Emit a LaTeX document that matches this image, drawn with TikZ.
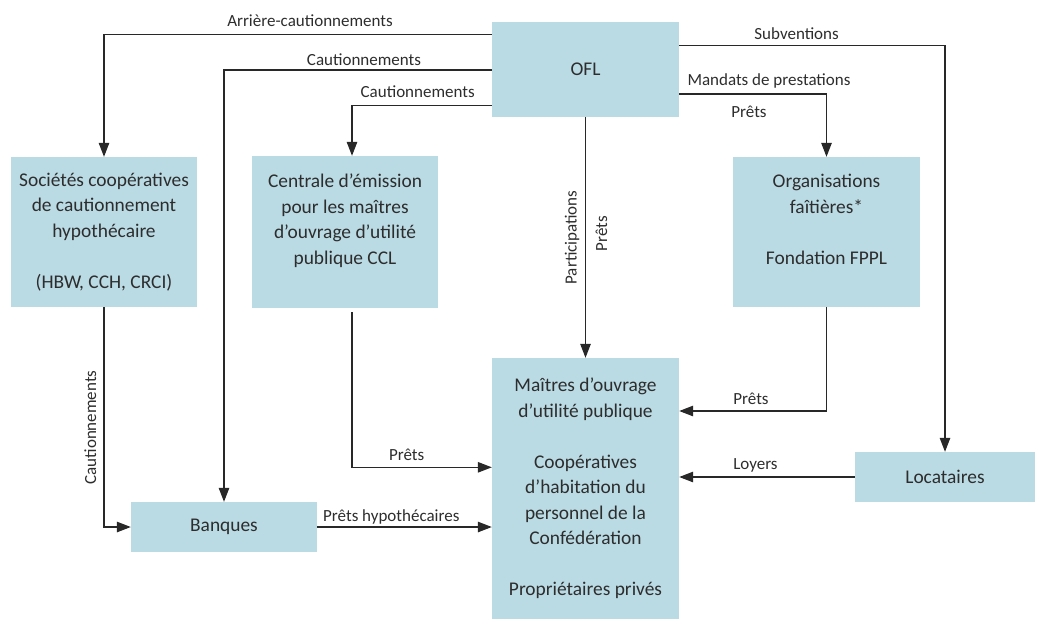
\documentclass[tikz,border=0pt]{standalone}
\usepackage{fontspec}
\setmainfont{Carlito}
\usetikzlibrary{arrows.meta}
\definecolor{boxblue}{RGB}{186,218,228}
\definecolor{ink}{RGB}{40,40,40}
\definecolor{txt}{RGB}{45,45,45}
\begin{document}
\begin{tikzpicture}[x=1pt,y=-1pt,
  box/.style={fill=boxblue, draw=none, inner sep=0pt, align=center, text=txt, font=\fontsize{19.4}{25.5}\selectfont},
  arr/.style={draw=ink, line width=1.2pt, -{Triangle[length=14pt,width=10.5pt]}},
  lbl/.style={text=txt, font=\fontsize{17}{20}\selectfont, inner sep=0pt, anchor=base},
  vlbl/.style={lbl, rotate=90}]
\useasboundingbox (0,0) rectangle (1038,619);
% boxes
\node[box, minimum width=187pt, minimum height=95pt] (ofl) at (585.5,69.3) {OFL};
\node[box, minimum width=186pt, minimum height=150pt] (soc) at (104,232) {Sociétés coopératives\\de cautionnement\\hypothécaire\\\mbox{}\\(HBW, CCH, CRCI)};
\node[box, minimum width=186pt, minimum height=152pt] (cen) at (345,232) {Centrale d’émission\\pour les maîtres\\d’ouvrage d’utilité\\publique CCL\\\mbox{}};
\node[box, minimum width=187pt, minimum height=150pt] (org) at (826.5,232) {Organisations\\faîtières*\\\mbox{}\\Fondation FPPL\\\mbox{}};
\node[box, minimum width=186pt, minimum height=50pt] (ban) at (224,527) {Banques};
\node[box, minimum width=187pt, minimum height=261pt] (mai) at (585.5,488.5) {Maîtres d’ouvrage\\d’utilité publique\\\mbox{}\\Coopératives\\d’habitation du\\personnel de la\\Confédération\\\mbox{}\\Propriétaires privés};
\node[box, minimum width=180pt, minimum height=50pt] (loc) at (945,477) {Locataires};
% connectors
\draw[arr] (ofl.west |- 0,34.3) -| (soc.north);
\draw[arr] (ofl.west |- 0,70) -| (ban.north);
\draw[arr] (ofl.west |- 0,105.3) -| ([xshift=7pt]cen.north);
\draw[arr] (ofl.east |- 0,45.7) -| (loc.north);
\draw[arr] (ofl.east |- 0,94) -| (org.north);
\draw[arr] (ofl.south) -- (mai.north);
\draw[arr] (soc.south) |- (ban.west);
\draw[arr] ([xshift=7pt,yshift=-4pt]cen.south) |- (mai.west |- 0,467.3);
\draw[arr] (ban.east) -- (mai.west |- ban.east);
\draw[arr] (org.south) |- (mai.east |- 0,411);
\draw[arr] (loc.west) -- (mai.east |- loc.west);
% labels
\node[lbl] (l1) at (310,26.7) {Arrière-cautionnements};
\node[lbl] (l2) at (364,65) {Cautionnements};
\node[lbl] (l3) at (417.7,97.7) {Cautionnements};
\node[lbl] (l4) at (796.6,39.3) {Subventions};
\node[lbl] (l5) at (769,85.3) {Mandats de prestations};
\node[lbl] (l6) at (749,117) {Prêts};
\node[vlbl] (l7) at (576.5,237.5) {Participations};
\node[vlbl] (l8) at (607,233.7) {Prêts};
\node[vlbl] (l9) at (96,427.5) {Cautionnements};
\node[lbl] (l10) at (406.7,460.7) {Prêts};
\node[lbl] (l11) at (391.3,521) {Prêts hypothécaires};
\node[lbl] (l12) at (751,404.3) {Prêts};
\node[lbl] (l13) at (755.4,469.7) {Loyers};
\end{tikzpicture}
\end{document}
